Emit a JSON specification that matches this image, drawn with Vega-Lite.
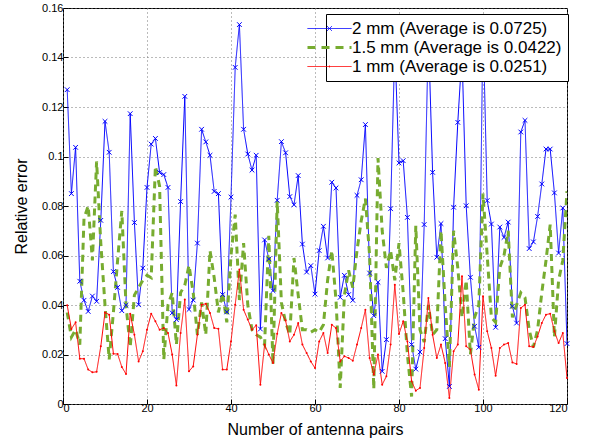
{
  "$schema": "https://vega.github.io/schema/vega-lite/v6.json",
  "width": 504,
  "height": 396,
  "autosize": {"type": "none"},
  "padding": {"left": 63, "top": 8, "right": 22, "bottom": 39},
  "background": "white",
  "config": {
    "font": "Liberation Sans",
    "view": {"stroke": "black", "strokeWidth": 1},
    "axis": {
      "domain": false,
      "tickColor": "black",
      "tickSize": -5,
      "labelColor": "black",
      "labelFontSize": 11,
      "labelFont": "Liberation Sans",
      "titleFont": "Liberation Sans",
      "titleFontSize": 16,
      "titleFontWeight": "normal",
      "titleColor": "black",
      "gridColor": "#777777",
      "gridDash": [1, 3],
      "gridOpacity": 1,
      "gridWidth": 1
    }
  },
  "data": {
    "values": [
      {"n":1,"b":0.127,"g":0.037,"r":0.0399},
      {"n":2,"b":0.085,"g":0.027,"r":0.0303},
      {"n":3,"b":0.1037,"g":0.030,"r":0.033},
      {"n":4,"b":0.0496,"g":0.024,"r":0.0183},
      {"n":5,"b":0.0419,"g":0.075,"r":0.0183},
      {"n":6,"b":0.0374,"g":0.080,"r":0.0139},
      {"n":7,"b":0.0436,"g":0.058,"r":0.0128},
      {"n":8,"b":0.0415,"g":0.098,"r":0.013},
      {"n":9,"b":0.0742,"g":0.065,"r":0.0233},
      {"n":10,"b":0.1142,"g":0.040,"r":0.037},
      {"n":11,"b":0.1017,"g":0.018,"r":0.0361},
      {"n":12,"b":0.0535,"g":0.037,"r":0.0203},
      {"n":13,"b":0.0471,"g":0.058,"r":0.0202},
      {"n":14,"b":0.0377,"g":0.078,"r":0.015},
      {"n":15,"b":0.0399,"g":0.040,"r":0.0121},
      {"n":16,"b":0.1173,"g":0.023,"r":0.0365},
      {"n":17,"b":0.0733,"g":0.044,"r":0.028},
      {"n":18,"b":0.0401,"g":0.047,"r":0.0172},
      {"n":19,"b":0.0549,"g":0.050,"r":0.0213},
      {"n":20,"b":0.0875,"g":0.052,"r":0.030},
      {"n":21,"b":0.105,"g":0.051,"r":0.0365},
      {"n":22,"b":0.1073,"g":0.096,"r":0.0334},
      {"n":23,"b":0.0935,"g":0.088,"r":0.030},
      {"n":24,"b":0.0927,"g":0.018,"r":0.0307},
      {"n":25,"b":0.0875,"g":0.040,"r":0.0287},
      {"n":26,"b":0.0368,"g":0.045,"r":0.02},
      {"n":27,"b":0.0341,"g":0.024,"r":0.0075},
      {"n":28,"b":0.0818,"g":0.045,"r":0.0287},
      {"n":29,"b":0.1243,"g":0.048,"r":0.0422},
      {"n":30,"b":0.0382,"g":0.056,"r":0.0132},
      {"n":31,"b":0.042,"g":0.045,"r":0.0152},
      {"n":32,"b":0.065,"g":0.028,"r":0.028},
      {"n":33,"b":0.111,"g":0.041,"r":0.0401},
      {"n":34,"b":0.1059,"g":0.028,"r":0.0405},
      {"n":35,"b":0.1005,"g":0.062,"r":0.0368},
      {"n":36,"b":0.0859,"g":0.051,"r":0.0307},
      {"n":37,"b":0.085,"g":0.037,"r":0.0304},
      {"n":38,"b":0.0442,"g":0.045,"r":0.0139},
      {"n":39,"b":0.0372,"g":0.033,"r":0.0139},
      {"n":40,"b":0.0836,"g":0.060,"r":0.0253},
      {"n":41,"b":0.136,"g":0.0765,"r":0.0401},
      {"n":42,"b":0.1533,"g":0.042,"r":0.0543},
      {"n":43,"b":0.111,"g":0.065,"r":0.0381},
      {"n":44,"b":0.101,"g":0.040,"r":0.0341},
      {"n":45,"b":0.0945,"g":0.030,"r":0.03},
      {"n":46,"b":0.1005,"g":0.028,"r":0.0318},
      {"n":47,"b":0.0303,"g":0.027,"r":0.0078},
      {"n":48,"b":0.0663,"g":0.024,"r":0.024},
      {"n":49,"b":0.0586,"g":0.068,"r":0.02},
      {"n":50,"b":0.0458,"g":0.016,"r":0.0166},
      {"n":51,"b":0.0823,"g":0.082,"r":0.0284},
      {"n":52,"b":0.106,"g":0.041,"r":0.0368},
      {"n":53,"b":0.1015,"g":0.033,"r":0.0337},
      {"n":54,"b":0.0838,"g":0.028,"r":0.0253},
      {"n":55,"b":0.0805,"g":0.059,"r":0.028},
      {"n":56,"b":0.0923,"g":0.044,"r":0.0327},
      {"n":57,"b":0.0646,"g":0.030,"r":0.024},
      {"n":58,"b":0.0533,"g":0.030,"r":0.0206},
      {"n":59,"b":0.0559,"g":0.029,"r":0.0172},
      {"n":60,"b":0.0444,"g":0.030,"r":0.0145},
      {"n":61,"b":0.062,"g":0.029,"r":0.0253},
      {"n":62,"b":0.0718,"g":0.032,"r":0.0287},
      {"n":63,"b":0.059,"g":0.050,"r":0.0206},
      {"n":64,"b":0.0896,"g":0.062,"r":0.032},
      {"n":65,"b":0.0873,"g":0.042,"r":0.0307},
      {"n":66,"b":0.0431,"g":0.0065,"r":0.0172},
      {"n":67,"b":0.052,"g":0.044,"r":0.0193},
      {"n":68,"b":0.0442,"g":0.054,"r":0.0186},
      {"n":69,"b":0.0419,"g":0.047,"r":0.0175},
      {"n":70,"b":0.0843,"g":0.062,"r":0.024},
      {"n":71,"b":0.0906,"g":0.074,"r":0.0307},
      {"n":72,"b":0.1129,"g":0.083,"r":0.0381},
      {"n":73,"b":0.0529,"g":0.060,"r":0.0186},
      {"n":74,"b":0.0357,"g":0.006,"r":0.0119},
      {"n":75,"b":0.0492,"g":0.0994,"r":0.02},
      {"n":76,"b":0.0132,"g":0.070,"r":0.0078},
      {"n":77,"b":0.026,"g":0.055,"r":0.0112},
      {"n":78,"b":0.0789,"g":0.062,"r":0.024},
      {"n":79,"b":0.145,"g":0.050,"r":0.0482},
      {"n":80,"b":0.0974,"g":0.065,"r":0.0283},
      {"n":81,"b":0.0983,"g":0.045,"r":0.0334},
      {"n":82,"b":0.0754,"g":0.020,"r":0.0253},
      {"n":83,"b":0.024,"g":0.003,"r":0.0092},
      {"n":84,"b":0.0141,"g":0.072,"r":0.0054},
      {"n":85,"b":0.021,"g":0.030,"r":0.0065},
      {"n":86,"b":0.0725,"g":0.025,"r":0.0226},
      {"n":87,"b":0.15,"g":0.040,"r":0.0428},
      {"n":88,"b":0.0936,"g":0.028,"r":0.028},
      {"n":89,"b":0.0593,"g":0.030,"r":0.0186},
      {"n":90,"b":0.0729,"g":0.070,"r":0.024},
      {"n":91,"b":0.0264,"g":0.040,"r":0.0166},
      {"n":92,"b":0.0071,"g":0.015,"r":0.0024},
      {"n":93,"b":0.0795,"g":0.070,"r":0.0213},
      {"n":94,"b":0.1138,"g":0.055,"r":0.024},
      {"n":95,"b":0.142,"g":0.035,"r":0.0516},
      {"n":96,"b":0.0801,"g":0.050,"r":0.0233},
      {"n":97,"b":0.0512,"g":0.020,"r":0.022},
      {"n":98,"b":0.0314,"g":0.035,"r":0.0119},
      {"n":99,"b":0.0229,"g":0.040,"r":0.0058},
      {"n":100,"b":0.155,"g":0.085,"r":0.0435},
      {"n":101,"b":0.0822,"g":0.060,"r":0.0294},
      {"n":102,"b":0.0727,"g":0.035,"r":0.0226},
      {"n":103,"b":0.031,"g":0.033,"r":0.0114},
      {"n":104,"b":0.0715,"g":0.055,"r":0.0226},
      {"n":105,"b":0.0673,"g":0.060,"r":0.024},
      {"n":106,"b":0.0735,"g":0.070,"r":0.0246},
      {"n":107,"b":0.0395,"g":0.035,"r":0.0168},
      {"n":108,"b":0.0327,"g":0.040,"r":0.0162},
      {"n":109,"b":0.1099,"g":0.045,"r":0.0388},
      {"n":110,"b":0.1146,"g":0.043,"r":0.0401},
      {"n":111,"b":0.0628,"g":0.030,"r":0.0233},
      {"n":112,"b":0.0655,"g":0.023,"r":0.023},
      {"n":113,"b":0.0758,"g":0.030,"r":0.0273},
      {"n":114,"b":0.0889,"g":0.045,"r":0.0327},
      {"n":115,"b":0.103,"g":0.058,"r":0.0361},
      {"n":116,"b":0.103,"g":0.0725,"r":0.0365},
      {"n":117,"b":0.0853,"g":0.027,"r":0.0294},
      {"n":118,"b":0.061,"g":0.050,"r":0.0246},
      {"n":119,"b":0.0792,"g":0.058,"r":0.0287},
      {"n":120,"b":0.0244,"g":0.086,"r":0.0105}
    ]
  },
  "transform": [{"fold": ["b", "g", "r"], "as": ["s", "v"]}],
  "encoding": {
    "x": {
      "field": "n", "type": "quantitative",
      "scale": {"domain": [0, 120], "nice": false},
      "axis": {"values": [0, 20, 40, 60, 80, 100, 120], "tickCount": 7, "title": "Number of antenna pairs", "labelPadding": 3, "titlePadding": 8, "grid": true}
    },
    "y": {
      "field": "v", "type": "quantitative",
      "scale": {"domain": [0, 0.16], "nice": false},
      "axis": {"values": [0, 0.02, 0.04, 0.06, 0.08, 0.1, 0.12, 0.14, 0.16], "tickCount": 9, "format": "~g", "title": "Relative error", "labelPadding": 5, "titlePadding": 12, "grid": true}
    }
  },
  "layer": [
    {
      "mark": {"type": "line", "clip": true},
      "encoding": {
        "color": {
          "field": "s", "type": "nominal",
          "scale": {"domain": ["b", "g", "r"], "range": ["#0000ff", "#77ac30", "#ff0000"]},
          "legend": {
            "title": null,
            "orient": "none",
            "legendX": 263,
            "legendY": 6,
            "labelFontSize": 17,
            "labelFont": "Liberation Sans",
            "labelColor": "black",
            "labelLimit": 400,
            "labelOffset": 14,
            "symbolOffset": -11,
            "labelExpr": "datum.value == 'b' ? '2 mm (Average is 0.0725)' : datum.value == 'g' ? '1.5 mm (Average is 0.0422)' : '1 mm (Average is 0.0251)'",
            "strokeColor": "black",
            "fillColor": "white",
            "padding": 6,
            "rowPadding": 1,
            "symbolSize": 1936,
            "symbolType": "stroke",
            "encode": {
              "symbols": {
                "update": {
                  "shape": {"signal": "datum.value == 'b' ? 'M-1,0H1M-0.11,-0.11L0.11,0.11M-0.11,0.11L0.11,-0.11' : datum.value == 'r' ? 'M-1,0H1M0,-0.04L0,0.04' : 'M-1,0H1'"},
                  "strokeDash": {"signal": "datum.value == 'g' ? [8, 6] : [1, 0]"},
                  "strokeWidth": {"signal": "datum.value == 'g' ? 3 : 1"},
                  "fill": {"value": "transparent"}
                }
              }
            }
          }
        },
        "strokeDash": {"condition": {"test": "datum.s == 'g'", "value": [7, 5]}, "value": [1, 0]},
        "strokeWidth": {"condition": {"test": "datum.s == 'g'", "value": 3}, "value": 1}
      }
    },
    {
      "transform": [{"filter": "datum.s == 'b'"}],
      "mark": {"type": "point", "shape": "M-1,-1L1,1M-1,1L1,-1", "filled": false, "size": 22, "strokeWidth": 1, "color": "#0000ff", "opacity": 1}
    },
    {
      "transform": [{"filter": "datum.s == 'r'"}],
      "mark": {"type": "point", "shape": "circle", "filled": true, "size": 4, "color": "#ff0000", "opacity": 1}
    }
  ]
}
